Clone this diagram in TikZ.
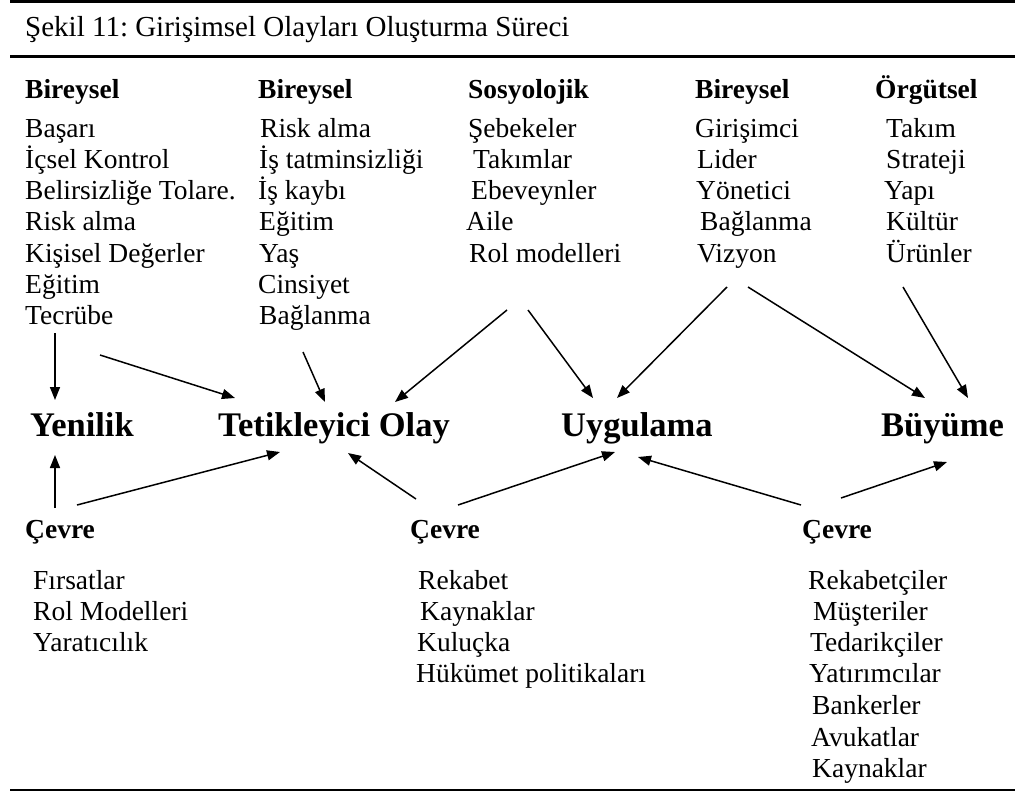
\documentclass[tikz,border=0pt]{standalone}
\usepackage{fontspec}
\setmainfont{Liberation Serif}
\usetikzlibrary{arrows.meta}
\frenchspacing
\begin{document}
\begin{tikzpicture}[x=1pt,y=-1pt,
  txt/.style={anchor=base west, inner sep=0pt, font=\fontsize{27.5}{31}\selectfont},
  hdr/.style={anchor=base west, inner sep=0pt, font=\fontsize{27.5}{31}\selectfont\bfseries},
  stage/.style={anchor=base west, inner sep=0pt, font=\fontsize{34.5}{40}\selectfont\bfseries},
  arr/.style={line width=1.5pt, -{Triangle[length=13pt,width=10pt]}}]
\useasboundingbox (0,0) rectangle (1015,793);

% caption and rules
\draw[line width=3pt] (10,1.5) -- (1015,1.5);
\node[txt, font=\fontsize{29}{33}\selectfont] (title) at (25,36) {Şekil 11: Girişimsel Olayları Oluşturma Süreci};
\draw[line width=3pt] (10,56.5) -- (1015,56.5);
\draw[line width=2pt] (10,790) -- (1015,790);

% factor headers
\node[hdr] (h1) at (25,98) {Bireysel};
\node[hdr] (h2) at (258,98) {Bireysel};
\node[hdr] (h3) at (468,98) {Sosyolojik};
\node[hdr] (h4) at (695,98) {Bireysel};
\node[hdr] (h5) at (875,98) {Örgütsel};

% column 1
\node[txt] (a1) at (25,137) {Başarı};
\node[txt] (a2) at (25,168) {İçsel Kontrol};
\node[txt] (a3) at (25,199) {Belirsizliğe Tolare.};
\node[txt] (a4) at (25,230) {Risk alma};
\node[txt] (a5) at (25,262) {Kişisel Değerler};
\node[txt] (a6) at (25,293) {Eğitim};
\node[txt] (a7) at (25,324) {Tecrübe};

% column 2
\node[txt] (b1) at (260,137) {Risk alma};
\node[txt] (b2) at (259,168) {İş tatminsizliği};
\node[txt] (b3) at (258,199) {İş kaybı};
\node[txt] (b4) at (259,230) {Eğitim};
\node[txt] (b5) at (259,262) {Yaş};
\node[txt] (b6) at (258,293) {Cinsiyet};
\node[txt] (b7) at (259,324) {Bağlanma};

% column 3
\node[txt] (c1) at (468,137) {Şebekeler};
\node[txt] (c2) at (473,168) {Takımlar};
\node[txt] (c3) at (471,199) {Ebeveynler};
\node[txt] (c4) at (466,230) {Aile};
\node[txt] (c5) at (469,262) {Rol modelleri};

% column 4
\node[txt] (d1) at (695,137) {Girişimci};
\node[txt] (d2) at (697,168) {Lider};
\node[txt] (d3) at (696,199) {Yönetici};
\node[txt] (d4) at (700,230) {Bağlanma};
\node[txt] (d5) at (697,262) {Vizyon};

% column 5
\node[txt] (e1) at (886,137) {Takım};
\node[txt] (e2) at (886,168) {Strateji};
\node[txt] (e3) at (884,199) {Yapı};
\node[txt] (e4) at (886,230) {Kültür};
\node[txt] (e5) at (886,262) {Ürünler};

% stages
\node[stage] (yen) at (30,436) {Yenilik};
\node[stage] (tet) at (218,436) {Tetikleyici Olay};
\node[stage] (uyg) at (561,436) {Uygulama};
\node[stage] (buy) at (881,436) {Büyüme};

% environment blocks
\node[hdr] (env1) at (25,538) {Çevre};
\node[txt] (f1) at (33,589) {Fırsatlar};
\node[txt] (f2) at (33,620) {Rol Modelleri};
\node[txt] (f3) at (33,651) {Yaratıcılık};

\node[hdr] (env2) at (410,538) {Çevre};
\node[txt] (g1) at (418,589) {Rekabet};
\node[txt] (g2) at (420,620) {Kaynaklar};
\node[txt] (g3) at (417,651) {Kuluçka};
\node[txt] (g4) at (416,682) {Hükümet politikaları};

\node[hdr] (env3) at (802,538) {Çevre};
\node[txt] (k1) at (808,589) {Rekabetçiler};
\node[txt] (k2) at (813,620) {Müşteriler};
\node[txt] (k3) at (810,651) {Tedarikçiler};
\node[txt] (k4) at (809,682) {Yatırımcılar};
\node[txt] (k5) at (812,714) {Bankerler};
\node[txt] (k6) at (811,746) {Avukatlar};
\node[txt] (k7) at (812,777) {Kaynaklar};

% arrow end points
\coordinate (s1) at (55,333);   \coordinate (e1y) at (55,400);
\coordinate (s2) at (100,355);  \coordinate (e2t) at (235,398);
\coordinate (s3) at (303,352);  \coordinate (e3t) at (325,402);
\coordinate (s4) at (507,310);  \coordinate (e4t) at (395,402);
\coordinate (s5) at (528,310);  \coordinate (e5u) at (593,398);
\coordinate (s6) at (727,287);  \coordinate (e6u) at (617,398);
\coordinate (s7) at (748,287);  \coordinate (e7b) at (925,398);
\coordinate (s8) at (903,287);  \coordinate (e8b) at (968,398);

\coordinate (p1) at (55,508);   \coordinate (q1y) at (55,455);
\coordinate (p2) at (77,505);   \coordinate (q2t) at (280,452);
\coordinate (p3) at (416,499);  \coordinate (q3t) at (348,453);
\coordinate (p4) at (458,505);  \coordinate (q4u) at (615,452);
\coordinate (p5) at (801,505);  \coordinate (q5u) at (638,457);
\coordinate (p6) at (841,498);  \coordinate (q6b) at (947,462);

% influences from above
\draw[arr] (s1) -- (e1y);
\draw[arr] (s2) -- (e2t);
\draw[arr] (s3) -- (e3t);
\draw[arr] (s4) -- (e4t);
\draw[arr] (s5) -- (e5u);
\draw[arr] (s6) -- (e6u);
\draw[arr] (s7) -- (e7b);
\draw[arr] (s8) -- (e8b);

% influences from the environment
\draw[arr] (p1) -- (q1y);
\draw[arr] (p2) -- (q2t);
\draw[arr] (p3) -- (q3t);
\draw[arr] (p4) -- (q4u);
\draw[arr] (p5) -- (q5u);
\draw[arr] (p6) -- (q6b);
\end{tikzpicture}
\end{document}
